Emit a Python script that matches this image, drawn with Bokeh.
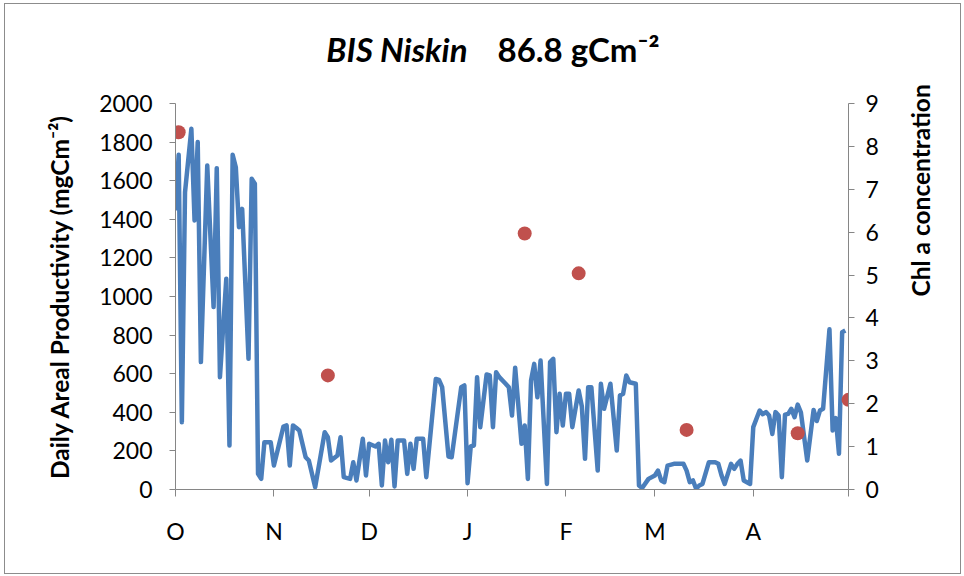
import math
from bokeh.plotting import figure
from bokeh.layouts import column
from bokeh.models import Range1d, LinearAxis, FixedTicker, Label
from bokeh.embed import file_html
from bokeh.resources import INLINE

# Daily areal productivity (mg C m-2 d-1), day index counted from 1 October
prod_day = [0, 1, 2, 3, 5, 6, 7, 8, 10, 12, 13, 14, 16, 17, 18, 19, 20, 21, 23, 24,
            25, 26, 27, 28, 30, 31, 34, 35, 36, 37, 38, 39, 41, 42, 44, 47, 48, 49, 51, 52,
            53, 55, 56, 57, 59, 60, 61, 63, 64, 65, 66, 67, 68, 69, 70, 72, 73, 74, 75, 76,
            78, 79, 82, 83, 84, 86, 87, 90, 91, 92, 93, 94, 95, 96, 98, 99, 100, 101, 102, 104,
            105, 106, 107, 109, 110, 111, 112, 113, 114, 115, 117, 118, 119, 120, 121, 122, 123, 124, 125, 127,
            128, 129, 130, 131, 133, 134, 135, 137, 139, 140, 141, 142, 143, 145, 146, 147, 149, 151, 152, 153,
            154, 155, 157, 160, 161, 162, 163, 164, 165, 166, 168, 170, 171, 172, 173, 175, 176, 177, 178, 179,
            181, 182, 184, 185, 186, 187, 188, 189, 190, 191, 192, 193, 194, 195, 196, 197, 199, 201, 202, 203,
            204, 206, 207, 208, 209, 210, 211]
prod_value = [1446, 1734, 349, 1540, 1869, 1394, 1800, 660, 1679, 945, 1665, 582, 1092, 228, 1734, 1670, 1359, 1454, 677, 1610,
              1584, 81, 55, 245, 245, 124, 326, 332, 124, 332, 320, 306, 167, 150, 12, 297, 271, 150, 176, 271,
              64, 55, 141, 47, 263, 73, 237, 223, 237, 21, 254, 141, 258, 16, 254, 254, 81, 237, 107, 263,
              263, 64, 573, 568, 530, 171, 167, 530, 539, 33, 223, 228, 582, 323, 596, 591, 323, 608, 582, 548,
              530, 383, 631, 237, 332, 55, 565, 651, 478, 668, 29, 660, 677, 297, 496, 332, 496, 496, 323, 513,
              430, 159, 530, 530, 98, 548, 418, 548, 202, 487, 496, 591, 556, 548, 21, 8, 55, 73, 98, 47,
              38, 124, 133, 133, 98, 38, 47, 4, 21, 29, 141, 141, 133, 73, 29, 133, 107, 133, 150, 47,
              29, 323, 409, 390, 401, 383, 288, 401, 383, 64, 388, 392, 418, 375, 440, 400, 150, 412, 355, 409,
              418, 830, 306, 370, 185, 815, 824]

# Chl a concentration samples
chl_day = [1, 48, 110, 127, 161, 196, 212]
chl_value = [8.33, 2.66, 5.97, 5.04, 1.39, 1.31, 2.09]

# Month boundaries (days from 1 October) and their initials
month_start = [0, 31, 61, 92, 123, 151, 182, 212]
month_label = ["O", "N", "D", "J", "F", "M", "A", ""]

SEASON_DAYS = 212
PROD_MAX = 2000
CHL_MAX = 9

FONT = "Lato"
AXIS_GREY = "#868686"

# chart area inside the 1px grey border: a title strip above the plot
W = 955
TITLE_H, PLOT_H = 70, 499
FR_LEFT, FR_RIGHT = 170, 843
FR_TOP, FR_BOTTOM = 29, 415
px_day = (FR_RIGHT - FR_LEFT) / SEASON_DAYS

# --- title strip (its frame lines up with the plot frame below) ---------------
t = figure(width=W, height=TITLE_H, output_backend="svg", toolbar_location=None,
           title_location=None, x_range=Range1d(0, SEASON_DAYS), y_range=Range1d(0, TITLE_H),
           x_axis_type=None, y_axis_type=None,
           min_border_left=FR_LEFT, min_border_right=W - FR_RIGHT,
           min_border_top=0, min_border_bottom=0)
t.outline_line_color = None
t.xgrid.visible = False
t.ygrid.visible = False
title_y = TITLE_H - 44
t.add_layout(Label(x=(462 - FR_LEFT) / px_day, y=title_y, text="BIS Niskin",
                   text_font=FONT, text_font_size="33px", text_font_style="bold italic",
                   text_align="right", text_baseline="middle", text_color="black"))
t.add_layout(Label(x=(492 - FR_LEFT) / px_day, y=title_y, text="86.8 gCm\u207b\u00b2",
                   text_font=FONT, text_font_size="33px", text_font_style="bold",
                   text_align="left", text_baseline="middle", text_color="black"))

# --- main plot ---------------------------------------------------------------
p = figure(width=W, height=PLOT_H, output_backend="svg", toolbar_location=None,
           title_location=None,
           x_range=Range1d(0, SEASON_DAYS), y_range=Range1d(0, PROD_MAX),
           min_border_left=FR_LEFT, min_border_right=W - FR_RIGHT,
           min_border_top=FR_TOP, min_border_bottom=PLOT_H - FR_BOTTOM)
p.outline_line_color = None
p.xgrid.visible = False
p.ygrid.visible = False
p.background_fill_color = "white"
p.border_fill_color = "white"
p.extra_y_ranges = {"chl": Range1d(0, CHL_MAX)}

# productivity line and chlorophyll points
p.line(prod_day, prod_value, line_color="#4A7EBB", line_width=4.5, line_join="round")
p.scatter(chl_day, chl_value, y_range_name="chl", size=14, fill_color="#C0504D",
          line_color=None)


def style_axis(ax):
    ax.axis_line_color = AXIS_GREY
    ax.major_tick_line_color = AXIS_GREY
    ax.minor_tick_line_color = None
    ax.major_tick_in = 0
    ax.major_tick_out = 6
    ax.major_label_text_font = FONT
    ax.major_label_text_font_size = "23px"
    ax.major_label_text_color = "black"
    ax.axis_label_text_font = FONT
    ax.axis_label_text_font_size = "24.5px"
    ax.axis_label_text_font_style = "bold"
    ax.axis_label_text_color = "black"


# bottom axis: months
xa = p.xaxis[0]
style_axis(xa)
xa.ticker = FixedTicker(ticks=month_start)
xa.major_label_overrides = {d: lab for d, lab in zip(month_start, month_label)}
xa.major_tick_out = 7
xa.major_label_standoff = 20

# left axis: productivity
ya = p.yaxis[0]
style_axis(ya)
ya.ticker = FixedTicker(ticks=list(range(0, PROD_MAX + 1, 200)))
ya.axis_label = "Daily Areal Productivity (mgCm\u207b\u00b2)"
ya.major_label_standoff = 17
ya.axis_label_standoff = 22

# right axis: chlorophyll, label reading bottom to top
ra = LinearAxis(y_range_name="chl", axis_label="Chl a concentration")
style_axis(ra)
ra.ticker = FixedTicker(ticks=list(range(0, CHL_MAX + 1)))
ra.major_label_standoff = 11
ra.axis_label_standoff = 39
if "axis_label_orientation" in ra.properties():
    ra.axis_label_orientation = math.pi / 2
p.add_layout(ra, "right")

layout = column(t, p, spacing=0,
                styles={"border": "1px solid #8c8c8c", "margin-left": "4px", "margin-top": "3px",
                        "background-color": "white"})

open("out.html", "w").write(file_html(layout, INLINE))
